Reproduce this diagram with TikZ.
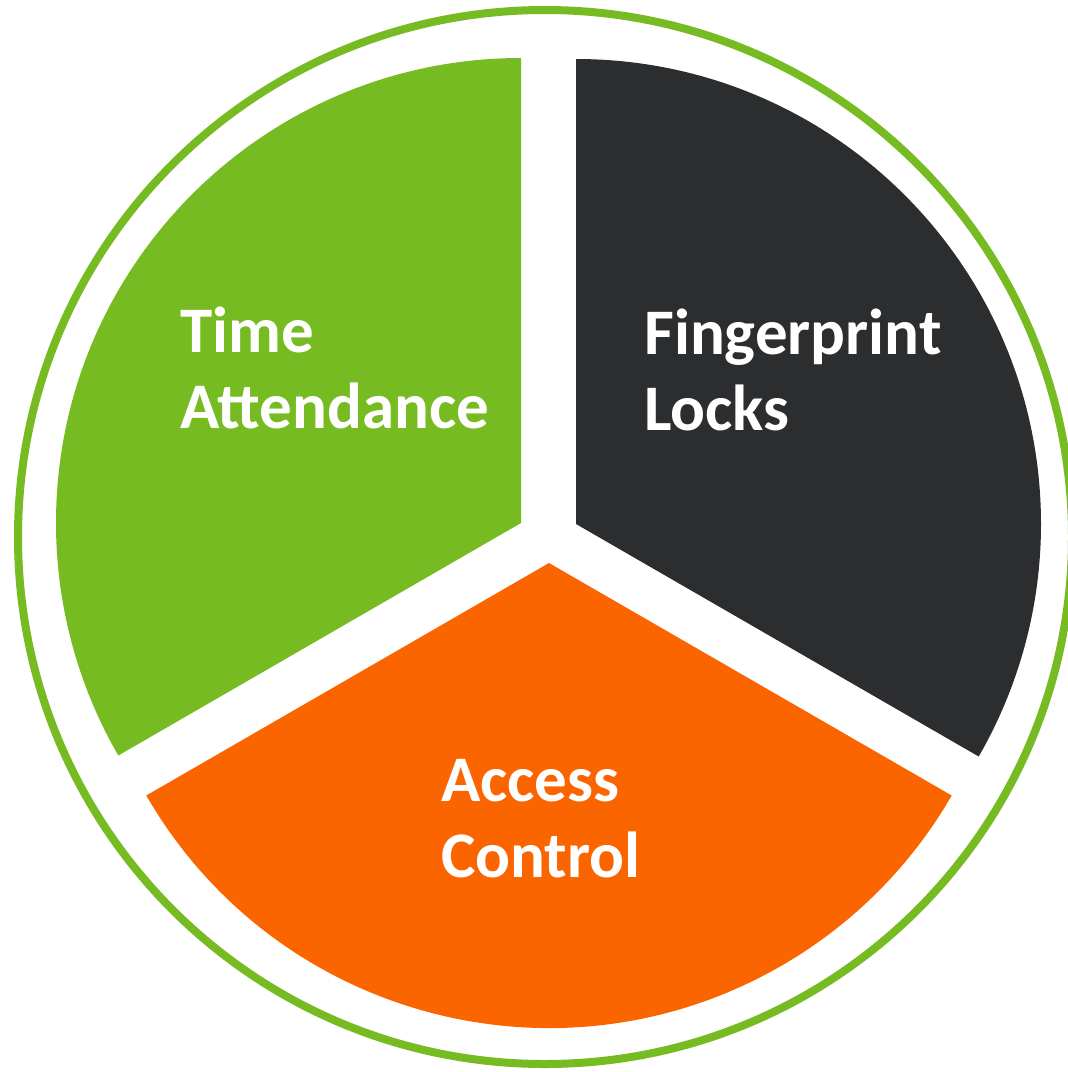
\documentclass[tikz,border=0pt]{standalone}
\usepackage{fontspec}
\setmainfont{Carlito}
\usetikzlibrary{positioning}

\definecolor{lime_green}{HTML}{77BB23}
\definecolor{charcoal}{HTML}{2C2D2F}
\definecolor{signal_orange}{HTML}{FB6500}

\tikzset{
	pie_label/.style={text=white, font=\bfseries\fontsize{65}{76}\selectfont, align=left, inner sep=0pt, anchor=base west},
}

\begin{document}
\begin{tikzpicture}[x=1pt, y=1pt]
				\useasboundingbox (0,0) rectangle (1068,-1072);
				% outer ring
				\draw[lime_green, line width=8pt] (545,-537) circle (527);
				% the three slices
				\coordinate (time_tip) at (521,-523);
				\coordinate (locks_tip) at (576,-524);
				\coordinate (access_tip) at (549,-563);
				\fill[lime_green] (time_tip) -- ++(90:465) arc (90:210:465) -- cycle;
				\fill[charcoal] (locks_tip) -- ++(90:465) arc (90:-30:465) -- cycle;
				\fill[signal_orange] (access_tip) -- ++(210:465) arc (210:330:465) -- cycle;
				% labels
				\node (time_label) [pie_label] at (180,-428) {Time\\Attendance};
				\node (locks_label) [pie_label] at (644,-430) {Fingerprint\\Locks};
				\node (access_label) [pie_label] at (441,-877) {Access\\Control};
			\end{tikzpicture}
\end{document}
